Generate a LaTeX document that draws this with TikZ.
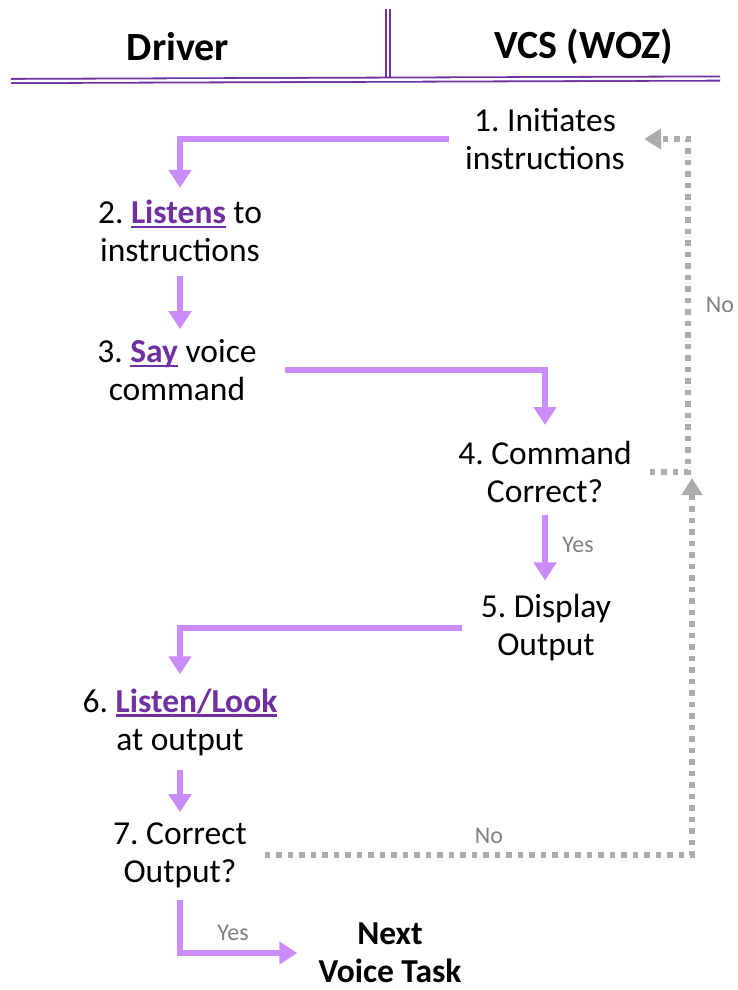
\documentclass[tikz,border=0pt]{standalone}
\usepackage{fontspec}
\setmainfont{Carlito}
\usepackage{tikz}
\usetikzlibrary{arrows.meta,positioning,calc}

\definecolor{lanec}{RGB}{112,48,160}
\definecolor{flowc}{RGB}{201,140,250}
\definecolor{backc}{RGB}{172,172,172}
\definecolor{answerc}{RGB}{128,128,128}
\newcommand\keyword[1]{\textcolor{lanec}{\bfseries\setbox0\hbox{#1}\rlap{\rule[-4.5pt]{\wd0}{2.4pt}}\box0}}

\begin{document}
\frenchspacing
\begin{tikzpicture}[x=1pt,y=-1pt,
  lane line/.style={draw=lanec,line width=1.8pt,double=white,double distance=2.4pt},
  stepbox/.style={align=center,inner sep=0pt,font=\fontsize{33.5}{38}\selectfont},
  lane title/.style={font=\fontsize{40}{46}\selectfont\bfseries},
  flow/.style={draw=flowc,line width=6pt,-{Triangle[width=22pt,length=18pt]}},
  back/.style={draw=backc,line width=5.5pt,dash pattern=on 5.5pt off 6pt,-{Triangle[width=20pt,length=17pt]}},
  answer/.style={text=answerc,font=\fontsize{24}{28}\selectfont}]
\useasboundingbox (0,0) rectangle (737,990);
% header
\node[lane title] (driver) at (178,47) {Driver};
\node[lane title] (vcs) at (584,47) {VCS (WOZ)};
\draw[lane line] (388,9) -- (388,78);
\draw[lane line] (11,81) -- (720,78.5);
% steps
\node[stepbox] (init) at (545,139) {1. Initiates\\instructions};
\node[stepbox] (listen) at (180,231) {2. \keyword{Listens} to\\instructions};
\node[stepbox] (say) at (177,370) {3. \keyword{Say} voice\\command};
\node[stepbox] (check) at (545,472) {4. Command\\Correct?};
\node[stepbox] (show) at (546,628) {5. Display\\Output};
\node[stepbox] (look) at (180,722) {6. \keyword{Listen/Look}\\at output};
\node[stepbox] (verify) at (180,855) {7. Correct\\Output?};
\node[stepbox,font=\fontsize{33.5}{38}\selectfont\bfseries] (next) at (390,953) {Next\\Voice Task};
\coordinate (rail) at (688,139);
\coordinate (retry) at (692,478);
% flow
\draw[flow,shorten <=16pt,shorten >=12pt] (init.west) -| (listen.north);
\draw[flow,shorten <=14pt,shorten >=10pt] (listen.south) -- (listen.south |- say.north);
\draw[flow,shorten <=28pt,shorten >=16pt] (say.east) -| (check.north);
\draw[flow,shorten <=12pt,shorten >=14pt] (check.south) -- (check.south |- show.north);
\draw[flow,shorten <=19pt,shorten >=14pt] (show.west) -| (look.north);
\draw[flow,shorten <=14pt,shorten >=10pt] (look.south) -- (look.south |- verify.north);
\draw[flow,shorten <=12pt,shorten >=21pt] (verify.south) |- (next.west);
% answers
\draw[back,shorten <=18pt] (verify.east) -| (retry);
\draw[back,shorten <=18pt,shorten >=19pt] (check.east) -| (rail) -- (init.east);
\node[answer] (yes1) at (578,545) {Yes};
\node[answer] (yes2) at (233,933) {Yes};
\node[answer] (no1) at (489,836) {No};
\node[answer] (no2) at (720,305) {No};
\end{tikzpicture}
\end{document}
